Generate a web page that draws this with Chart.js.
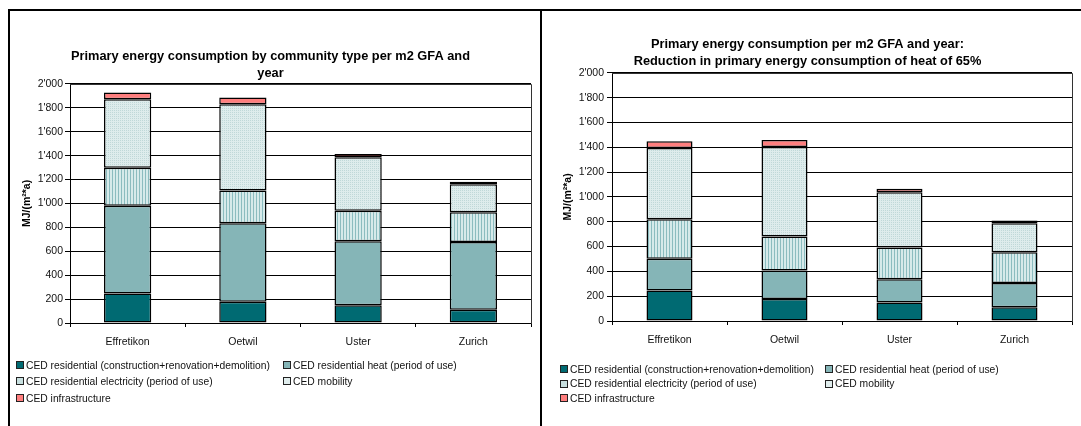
<!DOCTYPE html>
<html>
<head>
<meta charset="utf-8">
<script src="https://cdn.jsdelivr.net/npm/chart.js@4/dist/chart.umd.min.js"></script>
<style>
  body { margin: 0; background: #fff; width: 1081px; height: 426px; overflow: hidden; position: relative;
         font-family: "Liberation Sans", Arial, sans-serif; }
  .frame { position: absolute; left: 8px; top: 9px; width: 1100px; height: 500px;
           border-top: 2px solid #000; border-left: 2px solid #000; }
  .sep { position: absolute; left: 540px; top: 9px; width: 2px; height: 430px; background: #000; }
  canvas { position: absolute; }
  .legend-item { position: absolute; white-space: nowrap; display: flex; align-items: center; height: 12px;
                 font-size: 10.3px; color: #111; }
  .legend-box { width: 6px; height: 6px; border: 1px solid #222; margin-right: 2px; flex: none; }
</style>
</head>
<body>
<div class="frame"></div>
<div class="sep"></div>
<canvas id="chartA" width="530" height="414" style="left:10px;top:12px;width:530px;height:414px"></canvas>
<canvas id="chartB" width="538" height="414" style="left:543px;top:12px;width:538px;height:414px"></canvas>
<div id="legendA"></div>
<div id="legendB"></div>
<script>
// Communities on the x axis
const categories = ['Effretikon', 'Oetwil', 'Uster', 'Zurich'];

// Cumulative energy demand per m2 GFA and year, MJ/(m2*a)
const constructionCED = [246, 177, 149, 111];
const heatCED = [735, 658, 536, 567];
const heatReducedCED = [256, 231, 188, 195];   // heat after a 65% reduction
const electricityCED = [318, 273, 255, 248];
const mobilityCED = [574, 723, 447, 235];
const infrastructureCED = [56, 55, 28, 21];

const seriesLabels = [
  'CED residential (construction+renovation+demolition)',
  'CED residential heat (period of use)',
  'CED residential electricity (period of use)',
  'CED mobility',
  'CED infrastructure'
];

const yMax = 2000;
const yStep = 200;
const yAxisTitle = 'MJ/(m²*a)';

const titleA = ['Primary energy consumption by community type per m2 GFA and', 'year'];
const titleB = ['Primary energy consumption per m2 GFA and year:', 'Reduction in primary energy consumption of heat of 65%'];

const FONT = '"Liberation Sans", Arial, sans-serif';

// Fill patterns: vertical hatching for electricity, fine dots for mobility
function stripePattern() {
  const c = document.createElement('canvas');
  c.width = 3; c.height = 3;
  const g = c.getContext('2d');
  g.fillStyle = '#D6EAEA'; g.fillRect(0, 0, 3, 3);
  g.fillStyle = '#8BBCBF'; g.fillRect(0, 0, 1, 3);
  return g.createPattern(c, 'repeat');
}
function dotPattern() {
  const c = document.createElement('canvas');
  c.width = 2; c.height = 2;
  const g = c.getContext('2d');
  g.fillStyle = '#DEECEC'; g.fillRect(0, 0, 2, 2);
  g.fillStyle = '#C0D8D8'; g.fillRect(0, 0, 1, 1);
  return g.createPattern(c, 'repeat');
}

const fills = ['#006A72', '#85B5B7', stripePattern(), dotPattern(), '#FF7E7E'];
const legendFills = ['#006A72', '#85B5B7', '#C8E0E0', '#E0EDED', '#FF7E7E'];

function formatTick(v) {
  if (v >= 1000) return Math.floor(v / 1000) + "'" + String(v % 1000).padStart(3, '0');
  return String(v);
}

// Thin frame around the plot area (top and right edges)
const plotFrame = {
  id: 'plotFrame',
  afterDraw(chart) {
    const { ctx, chartArea: a } = chart;
    ctx.save();
    ctx.strokeStyle = '#333';
    ctx.lineWidth = 1;
    const r = Math.round(a.right) + 0.5, t = Math.round(a.top) + 0.5;
    ctx.beginPath();
    ctx.moveTo(Math.round(a.left), t); ctx.lineTo(r, t); ctx.lineTo(r, Math.round(a.bottom) + 1);
    ctx.stroke();
    ctx.restore();
  }
};

function makeChart(id, heat, title, g) {
  const values = [constructionCED, heat, electricityCED, mobilityCED, infrastructureCED];
  return new Chart(document.getElementById(id), {
    type: 'bar',
    data: {
      labels: categories,
      datasets: values.map((v, i) => ({
        label: seriesLabels[i],
        data: v,
        backgroundColor: fills[i],
        borderColor: '#000',
        borderWidth: 1.5,
        borderSkipped: false,
        barPercentage: g.bar,
        categoryPercentage: 1
      }))
    },
    options: {
      responsive: false,
      animation: false,
      layout: { padding: { left: 0, right: g.padRight, top: 0, bottom: g.padBottom } },
      plugins: {
        legend: { display: false },
        tooltip: { enabled: false },
        title: {
          display: true,
          text: title,
          color: '#000',
          font: { family: FONT, size: 12.8, weight: 'bold', lineHeight: 1.35 },
          padding: { top: g.titleTop, bottom: g.titleBottom }
        }
      },
      scales: {
        x: {
          stacked: true,
          afterFit(s) { s.height = 30; },
          grid: { display: true, drawOnChartArea: false, drawTicks: true, tickLength: 4, color: '#000', offset: true },
          border: { display: true, color: '#000', width: 1 },
          ticks: { color: '#111', padding: 9, font: { family: FONT, size: 10.5 } }
        },
        y: {
          stacked: true,
          min: 0,
          max: yMax,
          afterFit(s) { s.width = g.yWidth; },
          ticks: { stepSize: yStep, color: '#111', padding: g.tickPad, callback: formatTick,
                   font: { family: FONT, size: 10.5 } },
          grid: { color: '#000', lineWidth: 1, tickLength: 5, drawTicks: true },
          border: { display: true, color: '#000', width: 1 },
          title: { display: true, text: yAxisTitle, color: '#000',
                   font: { family: FONT, size: 10.5, weight: 'bold', lineHeight: 1.2 },
                   padding: { top: g.yTitlePad, bottom: 0 } }
        }
      }
    },
    plugins: [plotFrame]
  });
}

makeChart('chartA', heatCED, titleA,
  { bar: 0.41, padRight: 9, padBottom: 73, titleTop: 35.4, titleBottom: 2.0, yWidth: 60, tickPad: 2, yTitlePad: 10.7 });
makeChart('chartB', heatReducedCED, titleB,
  { bar: 0.40, padRight: 9, padBottom: 75, titleTop: 23.9, titleBottom: 2.5, yWidth: 69, tickPad: 3, yTitlePad: 18.7 });

// Two-column legends below each chart
function buildLegend(id, col1, col2, rows) {
  const host = document.getElementById(id);
  const slots = [[col1, rows[0]], [col2, rows[0]], [col1, rows[1]], [col2, rows[1]], [col1, rows[2]]];
  seriesLabels.forEach((label, i) => {
    const el = document.createElement('div');
    el.className = 'legend-item';
    el.style.left = slots[i][0] + 'px';
    el.style.top = (slots[i][1] - 6) + 'px';
    const box = document.createElement('span');
    box.className = 'legend-box';
    box.style.background = legendFills[i];
    el.appendChild(box);
    el.appendChild(document.createTextNode(label));
    host.appendChild(el);
  });
}
buildLegend('legendA', 16, 283, [365, 381, 398]);
buildLegend('legendB', 560, 825, [369, 383.5, 398]);
</script>
</body>
</html>
